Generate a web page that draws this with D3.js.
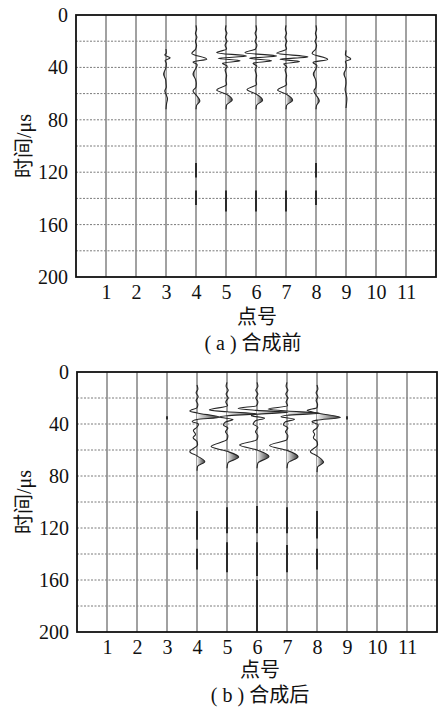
<!DOCTYPE html>
<html><head><meta charset="utf-8">
<script src="https://cdn.jsdelivr.net/npm/d3@7/dist/d3.min.js"></script>
<style>html,body{margin:0;padding:0;background:#fff;}svg{display:block;}
.serif{font-family:"Liberation Serif","Times New Roman",Times,serif;}
.cjk{font-family:"Noto Sans CJK SC","Noto Sans CJK JP",sans-serif;}
</style>
</head><body>
<svg id="chart" width="442" height="707"></svg>
<script>
// ---------- data ----------
const timeTicks = [0, 40, 80, 120, 160, 200];
const gridTimes = [20, 40, 60, 80, 100, 120, 140, 160, 180];
const pointLabels = [1, 2, 3, 4, 5, 6, 7, 8, 9, 10, 11];
const xLabel = "点号";
const yLabelCJK = "时间";
const yLabelUnit = "/μs";
const captionA = ["( a ) ", "合成前"];
const captionB = ["( b ) ", "合成后"];

// traces: [time µs, amplitude in trace-spacing units]
const a3 = [[26,0],[29,0.01],[30.5,-0.04],[32.7,0.14],[34.8,-0.03],[37,0.01],[40,0],[45,-0.08],[49.5,-0.01],[52,0],[55,0.01],[58,-0.04],[60.5,0],[64,0.05],[67.5,0.02],[72,0]];
const a4 = [[8,0],[11,0.02],[14,-0.02],[17,0.03],[20,-0.02],[23,0.02],[26,-0.01],[29.3,-0.14],[33.7,0.36],[35.8,-0.1],[38,0.04],[40.5,0],[45,-0.1],[49,-0.02],[52,0.01],[55,0],[58,-0.1],[61,0],[65.6,0.13],[69,0.02],[72,0]];
const a5 = [[8,0],[11,-0.02],[14,0.03],[17,-0.02],[20,0.03],[23,-0.03],[26,0.02],[28.8,-0.31],[31.3,0.69],[33.1,-0.26],[34.9,0.47],[36.8,-0.12],[39,0.04],[42,-0.03],[46,0.02],[50,0],[53,0.02],[57.3,-0.31],[60.3,0],[64.9,0.21],[68.7,0.02],[72,0]];
const a6 = [[8,0],[11,0.02],[14,-0.03],[17,0.02],[20,-0.03],[23,0.03],[26,-0.02],[28.8,-0.37],[31.3,0.69],[33.1,-0.22],[34.9,0.52],[36.8,-0.1],[39,0.03],[42,-0.03],[46,0.02],[50,0],[53,0.02],[56.9,-0.3],[60.3,0],[65,0.22],[69,0.02],[72,0]];
const a7 = [[8,0],[11,-0.02],[14,0.02],[17,-0.03],[20,0.02],[23,-0.02],[26,0.02],[29.2,-0.31],[32,0.73],[33.8,-0.2],[35.5,0.45],[37.3,-0.08],[39.5,0.02],[42,-0.03],[46,0.02],[50,0],[53,0.02],[57.3,-0.28],[60.3,0],[65,0.22],[69,0.02],[72,0]];
const a8 = [[8,0],[11,0.02],[14,-0.02],[17,0.02],[20,-0.03],[23,0.02],[26,-0.01],[29.3,-0.13],[33.9,0.39],[36.2,-0.1],[38.5,0.03],[41,0],[45,-0.09],[49,-0.02],[52,0.01],[55,0],[58,-0.07],[61,0],[65.6,0.11],[69,0.02],[72,0]];
const a9 = [[27,0],[30.5,-0.02],[33.5,0.16],[35.5,-0.02],[38,0.01],[41,0],[45,-0.07],[49,-0.01],[52,0],[57,-0.03],[60,0],[64,0.03],[67,0.02],[71,0]];

const b4 = [[10,0],[13,0.03],[16,-0.03],[19,0.04],[22,-0.03],[25,0.03],[27.5,0],[30,-0.24],[31.5,0],[34.8,0.75],[36.6,0],[38.2,-0.16],[40,0.05],[42.5,0],[45,-0.12],[48,-0.05],[50.5,-0.13],[53.5,0],[56,0.02],[61.3,-0.24],[64.5,0],[69,0.26],[72.5,0.02],[76,0]];
const b5 = [[8,0],[11,-0.03],[14,0.04],[17,-0.03],[20,0.04],[23,-0.04],[26,0.02],[29.2,-0.59],[30.6,0],[32.2,1.0],[33.6,0],[34.6,-0.25],[36.5,0.2],[38.5,-0.05],[40.8,-0.12],[43,0.03],[46,-0.05],[49,0.03],[52,0],[57.4,-0.53],[61,0],[65.4,0.39],[70,0.03],[74,0]];
const b6 = [[8,0],[11,0.03],[14,-0.04],[17,0.03],[20,-0.04],[23,0.03],[26,-0.02],[28,-0.63],[29.5,0],[31,1.03],[32.5,0],[33.6,-0.19],[35.5,0.25],[37.5,-0.05],[40,-0.12],[42.5,0.03],[46,-0.05],[49,0.03],[52,0],[56.2,-0.58],[60,0],[65,0.4],[70,0.03],[74,0]];
const b7 = [[8,0],[11,-0.03],[14,0.03],[17,-0.04],[20,0.03],[23,-0.03],[26,0.02],[28.5,-0.63],[30,0],[31.8,1.09],[33.3,0],[34.4,-0.2],[36.3,0.25],[38.3,-0.05],[40.5,-0.12],[43,0.03],[46,-0.05],[49,0.03],[52,0],[56.5,-0.58],[60.3,0],[65.2,0.37],[70,0.03],[74,0]];
const b8 = [[10,0],[13,0.03],[16,-0.03],[19,0.03],[22,-0.03],[25,0.02],[27.5,0],[29.5,-0.33],[31.5,0],[35,0.78],[37,0],[38.3,-0.17],[40.5,0.04],[43,0],[45.5,-0.13],[48,-0.08],[50.5,-0.12],[53.5,0],[56,0.02],[61.3,-0.22],[64.5,0],[69.5,0.22],[73,0.02],[77,0]];

// shaded lobes: [trace, t0, t1]
const fillA = [[3,40,52],[3,60.5,72],[4,40.5,52],[4,61,72],[5,60.3,72],[6,60.3,72],[7,60.3,72],[8,41,52],[8,61,72],[9,41,52],[9,60,71]];
const fillB = [[4,31.5,36.6],[4,64.5,76],[5,30.6,33.6],[5,61,74],[6,29.5,32.5],[6,60,74],[7,30,33.3],[7,60.3,74],[8,31.5,37],[8,64.5,77]];
// weak (dense low-amplitude) segments: [trace, t0, t1]
const weakA = [[4,113,124],[4,134,145],[5,134,150],[6,134,150],[7,134,150],[8,113,124],[8,134,145]];
const weakB = [[3,34,36.5],[9,34,36.5],[4,107,129],[4,136,152],[5,104,124],[5,131,154],[6,103,124],[6,131,157],[6,160,200],[7,104,124],[7,133,154],[8,107,128],[8,136,152]];

// ---------- drawing ----------
const svg = d3.select("#chart");
const defs = svg.append("defs");
let uid = 0;

function drawPanel(cfg) {
  const x = d3.scaleLinear().domain([0, 12]).range([cfg.left, cfg.right]);
  const y = d3.scaleLinear().domain([0, 200]).range([cfg.top, cfg.bottom]);
  const g = svg.append("g");

  // horizontal dashed grid
  g.selectAll(".hg").data(gridTimes).join("line")
    .attr("x1", cfg.left).attr("x2", cfg.right)
    .attr("y1", d => y(d)).attr("y2", d => y(d))
    .attr("stroke", "#7a7a7a").attr("stroke-width", 1).attr("stroke-dasharray", "2,1.5");
  // vertical trace baselines
  g.selectAll(".vg").data(pointLabels).join("line")
    .attr("x1", d => x(d)).attr("x2", d => x(d))
    .attr("y1", cfg.top).attr("y2", cfg.bottom)
    .attr("stroke", "#8a8a8a").attr("stroke-width", 1.6);

  // shaded lobes
  const traceMap = new Map(cfg.traces);
  cfg.fills.forEach(([tr, t0, t1]) => {
    const samples = traceMap.get(tr);
    if (!samples) return;
    const id = "u" + (uid++);
    const inWin = samples.filter(d => d[0] >= t0 && d[0] <= t1);
    const peak = inWin.reduce((m, d) => Math.abs(d[1]) > Math.abs(m) ? d[1] : m, 0);
    defs.append("clipPath").attr("id", "c" + id).append("rect")
      .attr("x", cfg.left).attr("width", cfg.right - cfg.left)
      .attr("y", y(t0)).attr("height", y(t1) - y(t0));
    const grad = defs.append("linearGradient").attr("id", "g" + id)
      .attr("gradientUnits", "userSpaceOnUse")
      .attr("x1", x(tr)).attr("x2", x(tr + peak)).attr("y1", 0).attr("y2", 0);
    grad.append("stop").attr("offset", "0%").attr("stop-color", "#f2f2f2");
    grad.append("stop").attr("offset", "100%").attr("stop-color", "#3c3c3c");
    const area = d3.area().curve(d3.curveMonotoneY)
      .y(d => y(d[0])).x0(x(tr)).x1(d => x(tr + d[1]));
    g.append("path").attr("d", area(samples))
      .attr("fill", `url(#g${id})`).attr("clip-path", `url(#c${id})`);
  });

  // wiggle traces
  cfg.traces.forEach(([tr, samples]) => {
    const line = d3.line().curve(d3.curveMonotoneY)
      .x(d => x(tr + d[1])).y(d => y(d[0]));
    g.append("path").attr("d", line(samples))
      .attr("fill", "none").attr("stroke", "#262626").attr("stroke-width", 1.1);
  });

  // weak segments
  g.selectAll(".wk").data(cfg.weak).join("line")
    .attr("x1", d => x(d[0])).attr("x2", d => x(d[0]))
    .attr("y1", d => y(d[1])).attr("y2", d => y(d[2]))
    .attr("stroke", "#2a2a2a").attr("stroke-width", 2);

  // frame
  g.append("rect").attr("x", cfg.left).attr("y", cfg.top)
    .attr("width", cfg.right - cfg.left).attr("height", cfg.bottom - cfg.top)
    .attr("fill", "none").attr("stroke", "#111").attr("stroke-width", 1.8);

  // axes
  const ya = g.append("g").attr("transform", `translate(${cfg.left},0)`)
    .call(d3.axisLeft(y).tickValues(timeTicks).tickSize(0).tickPadding(8));
  const xa = g.append("g").attr("transform", `translate(0,${cfg.bottom})`)
    .call(d3.axisBottom(x).tickValues(pointLabels).tickSize(0).tickPadding(8));
  [ya, xa].forEach(a => {
    a.attr("font-family", null);
    a.select(".domain").remove();
    a.selectAll("text").attr("class", "serif").attr("font-size", 20).attr("fill", "#111");
  });

  // axis titles
  g.append("text").attr("class", "cjk").attr("x", cfg.xTitleX).attr("y", cfg.xTitleY)
    .attr("text-anchor", "middle").attr("font-size", 20)
    .attr("fill", "#111").text(xLabel);
  const yt = g.append("text")
    .attr("transform", `translate(31,${(cfg.top + cfg.bottom) / 2}) rotate(-90)`)
    .attr("text-anchor", "middle").attr("fill", "#111").attr("font-size", 20);
  yt.append("tspan").attr("class", "cjk").text(yLabelCJK);
  yt.append("tspan").attr("class", "serif").text(yLabelUnit);

  // caption
  const cap = g.append("text").attr("x", cfg.capX).attr("y", cfg.capY)
    .attr("text-anchor", "middle").attr("fill", "#111").attr("font-size", 20)
    .attr("xml:space", "preserve");
  cap.append("tspan").attr("class", "serif").text(cfg.caption[0]);
  cap.append("tspan").attr("class", "cjk").text(cfg.caption[1]);
}

drawPanel({
  left: 76, right: 436, top: 15, bottom: 277,
  traces: [[3, a3], [4, a4], [5, a5], [6, a6], [7, a7], [8, a8], [9, a9]],
  fills: fillA, weak: weakA,
  xTitleX: 257, xTitleY: 324, capX: 253, capY: 350, caption: captionA
});
drawPanel({
  left: 77, right: 437, top: 372, bottom: 632,
  traces: [[4, b4], [5, b5], [6, b6], [7, b7], [8, b8]],
  fills: fillB, weak: weakB,
  xTitleX: 260, xTitleY: 677, capX: 260, capY: 702, caption: captionB
});
</script>
</body></html>
